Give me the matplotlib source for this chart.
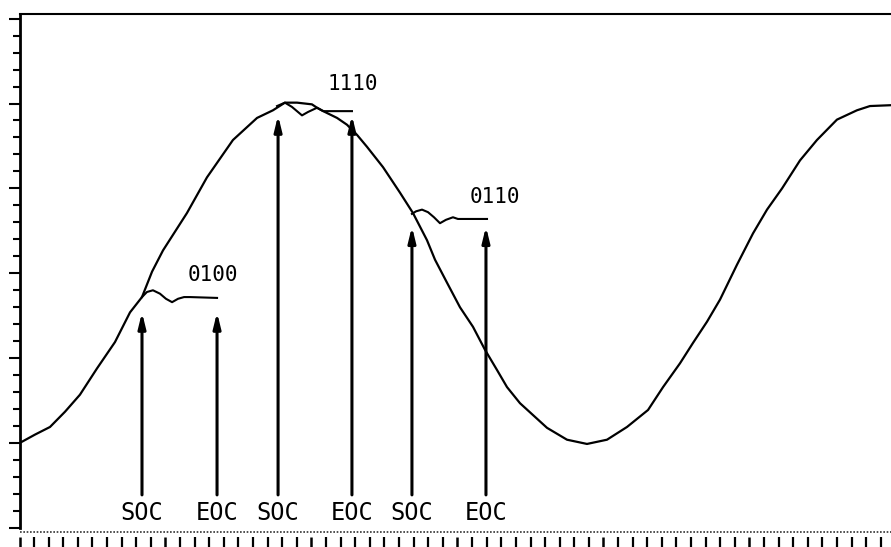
import matplotlib
matplotlib.use('Agg')
from matplotlib import pyplot as plt
from matplotlib.lines import Line2D
from matplotlib.ticker import MultipleLocator

# main (sine-like) signal
sig_x = [0.0, 1.06, 2.09, 3.12, 4.14, 5.31, 6.54, 7.57, 8.39, 9.08, 9.83, 11.47, 12.84, 14.62,
         16.27, 17.36, 18.18, 19.01, 20.03, 20.38, 20.92, 21.75, 22.43, 23.12, 23.80,
         24.90, 26.06, 26.95, 27.91, 28.46, 29.28, 30.17, 31.06, 31.88, 32.71, 33.39,
         34.28, 36.13, 37.50, 38.87, 40.24, 41.61, 43.05, 44.08, 45.24, 46.13, 47.09,
         47.98, 49.14, 50.24, 51.20, 52.23, 53.46, 54.62, 55.99, 57.36, 58.25, 59.69]
sig_y = [1.00, 1.10, 1.19, 1.37, 1.57, 1.88, 2.19, 2.54, 2.72, 3.02, 3.27, 3.71, 4.13, 4.57,
         4.83, 4.92, 5.01, 5.01, 4.99, 4.95, 4.90, 4.83, 4.75, 4.63, 4.49,
         4.25, 3.95, 3.71, 3.39, 3.16, 2.89, 2.60, 2.37, 2.10, 1.86, 1.66,
         1.47, 1.18, 1.04, 0.99, 1.04, 1.19, 1.39, 1.66, 1.94, 2.18, 2.43,
         2.69, 3.10, 3.47, 3.75, 4.00, 4.33, 4.57, 4.81, 4.92, 4.97, 4.98]

# predicted segments between SOC and EOC
seg_0100_x = [8.39, 8.73, 9.14, 9.62, 10.03, 10.45, 10.86, 11.27, 11.68, 13.53]
seg_0100_y = [2.72, 2.78, 2.80, 2.76, 2.70, 2.66, 2.70, 2.72, 2.72, 2.71]
seg_1110_x = [17.64, 18.18, 18.66, 19.35, 19.76, 20.38, 20.79, 22.77]
seg_1110_y = [4.97, 5.01, 4.96, 4.86, 4.90, 4.95, 4.91, 4.91]
seg_0110_x = [26.88, 27.16, 27.57, 27.98, 28.39, 28.80, 29.21, 29.69, 30.03, 32.02]
seg_0110_y = [3.70, 3.73, 3.75, 3.72, 3.66, 3.59, 3.63, 3.66, 3.64, 3.64]

codes = ['0100', '1110', '0110']
code_x = [13.27, 22.84, 32.57]
code_y = [2.98, 5.23, 3.90]

marker_labels = ['SOC', 'EOC', 'SOC', 'EOC', 'SOC', 'EOC']
marker_x = [8.39, 13.53, 17.71, 22.77, 26.88, 31.95]
marker_tip = [2.54, 2.54, 4.86, 4.86, 3.55, 3.55]
arrow_base = 0.39
label_y = 0.18

W, H = 891, 547
fig = plt.figure(figsize=(W / 100, H / 100), dpi=100)
ax = fig.add_axes([19.5 / W, 19 / H, 1 - 19.5 / W, 514 / H])
ax.set_xlim(0, 871.5 / 14.6)
ax.set_ylim(0, 514 / 84.9)

ax.plot(sig_x, sig_y, color='black', lw=1.6)
for sx, sy in [(seg_0100_x, seg_0100_y), (seg_1110_x, seg_1110_y), (seg_0110_x, seg_0110_y)]:
    ax.plot(sx, sy, color='black', lw=1.5)

for c, cx, cy in zip(codes, code_x, code_y):
    ax.text(cx, cy, c, ha='center', va='center', fontsize=15, family='DejaVu Sans Mono')

for lab, mx, tip in zip(marker_labels, marker_x, marker_tip):
    ax.annotate('', xy=(mx, tip), xytext=(mx, arrow_base),
                arrowprops=dict(arrowstyle='-|>,head_length=0.9,head_width=0.22',
                                lw=2.2, color='black', shrinkA=0, shrinkB=0))
    ax.text(mx, label_y, lab, ha='center', va='center', fontsize=17, family='DejaVu Sans Mono')

# axes frame
ax.spines['right'].set_visible(False)
ax.spines['bottom'].set_position(('outward', 6.5))
ax.spines['bottom'].set_visible(False)
ax.spines['left'].set_linewidth(2)
ax.spines['top'].set_linewidth(1.5)

ax.yaxis.set_major_locator(MultipleLocator(1))
ax.yaxis.set_minor_locator(MultipleLocator(0.2))
ax.xaxis.set_major_locator(MultipleLocator(10))
ax.xaxis.set_minor_locator(MultipleLocator(1))
ax.tick_params(axis='y', which='major', direction='out', length=8, width=1.5, labelleft=False)
ax.tick_params(axis='y', which='minor', direction='out', length=5, width=1.5)
ax.tick_params(axis='x', which='major', direction='out', length=8, width=1.8, labelbottom=False)
ax.tick_params(axis='x', which='minor', direction='out', length=7.5, width=1.6)

# dotted base line under the plot
fig.add_artist(Line2D([19.5 / W, 1], [1 - 532 / H, 1 - 532 / H], color='#333333',
                      lw=1.2, linestyle=(0, (1, 1))))

fig.savefig('out.png', dpi=100)
